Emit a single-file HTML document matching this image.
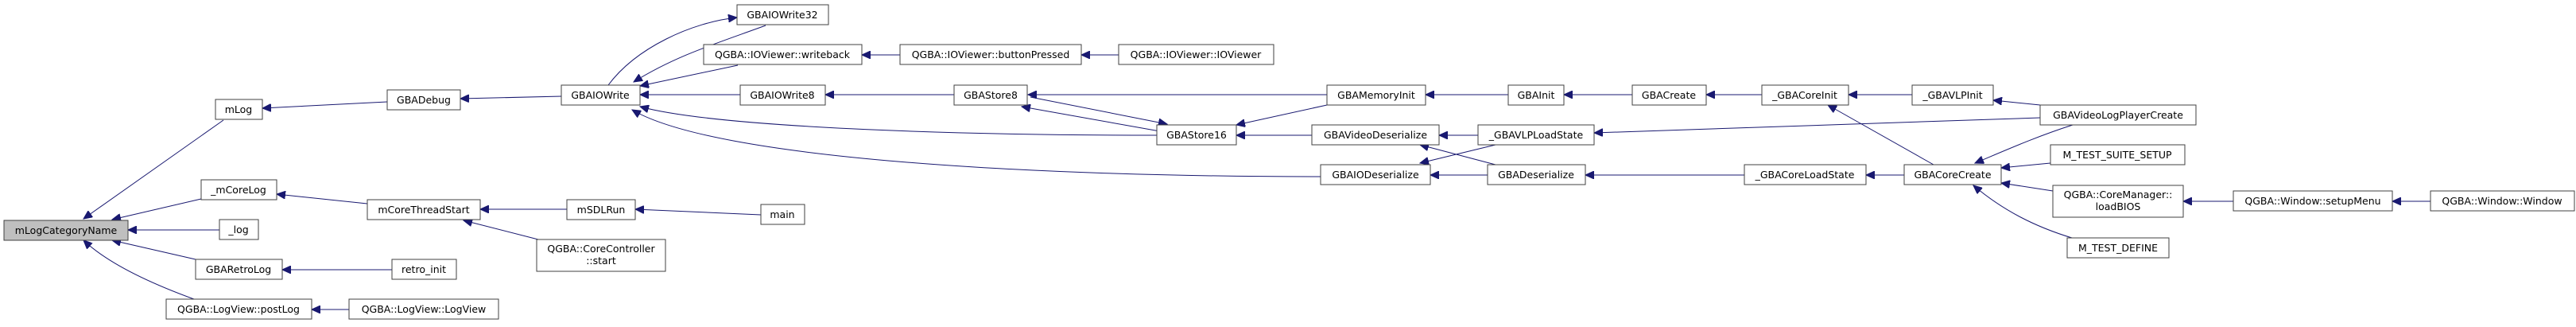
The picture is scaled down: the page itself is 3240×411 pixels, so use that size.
<!DOCTYPE html>
<html><head><meta charset="utf-8"><style>
html,body{margin:0;padding:0;background:#fff;}
svg{display:block;}
text{font-family:"DejaVu Sans","Liberation Sans",sans-serif;font-size:12.5px;fill:#000;}
.n{fill:#fff;stroke:#404040;stroke-width:1;}
.e{fill:none;stroke:#191970;stroke-width:1;}
</style></head><body>
<svg width="3240" height="411" viewBox="0 0 3240 411" xmlns="http://www.w3.org/2000/svg">
<defs>
<marker id="a" markerUnits="userSpaceOnUse" markerWidth="12" markerHeight="10" refX="11" refY="5" orient="auto">
<path d="M0,0 L11,5 L0,10 Z" fill="#191970" stroke="#191970"/>
</marker>
</defs>
<g class="e" marker-end="url(#a)">
<path d="M281,151 L105,275"/>
<path d="M253,250 L141,276"/>
<path d="M276,289 L161,289"/>
<path d="M246,326 L141,302"/>
<path d="M244,376 C200,360 140,335 105,302"/>
<path d="M487,128 L330,136"/>
<path d="M707,121 L579,124"/>
<path d="M462,256 L348,244"/>
<path d="M493,339 L355,339"/>
<path d="M439,389 L392,389"/>
<path d="M713,263 L604,263"/>
<path d="M677,301 L583,277"/>
<path d="M957,270 L799,263"/>
<path d="M765,107 C800,60 870,28 927,22"/>
<path d="M963,32 C900,55 850,70 797,103"/>
<path d="M928,82 L805,108"/>
<path d="M1132,69 L1084,69"/>
<path d="M1407,69 L1360,69"/>
<path d="M931,119 L805,119"/>
<path d="M1200,119 L1038,119"/>
<path d="M1455,170 C1200,170 900,160 805,134"/>
<path d="M1661,222 C1300,222 900,200 795,138"/>
<path d="M1459,165 L1285,134"/>
<path d="M1296,122 L1468,156"/>
<path d="M1669,119 L1293,119"/>
<path d="M1669,132 L1555,157"/>
<path d="M1650,170 L1555,170"/>
<path d="M1897,119 L1793,119"/>
<path d="M2053,119 L1967,119"/>
<path d="M2216,119 L2146,119"/>
<path d="M2405,119 L2325,119"/>
<path d="M2432,207 L2299,132"/>
<path d="M2566,132 L2507,126"/>
<path d="M2566,148 L2005,167"/>
<path d="M1859,170 L1810,170"/>
<path d="M1881,182 L1786,205"/>
<path d="M1881,207 L1786,182"/>
<path d="M1871,220 L1799,220"/>
<path d="M2194,220 L1994,220"/>
<path d="M2395,220 L2347,220"/>
<path d="M2607,157 C2560,172 2520,190 2484,205"/>
<path d="M2579,205 L2517,211"/>
<path d="M2582,240 L2517,230"/>
<path d="M2606,299 C2560,285 2520,265 2482,233"/>
<path d="M2809,253 L2746,253"/>
<path d="M3057,253 L3009,253"/>
</g>
<g>
<rect x="5" y="277" width="156" height="25" fill="#bfbfbf" stroke="#404040"/><text x="83" y="294" text-anchor="middle">mLogCategoryName</text>
<rect class="n" x="271" y="125" width="59" height="25"/><text x="300" y="142" text-anchor="middle">mLog</text>
<rect class="n" x="487" y="113" width="92" height="25"/><text x="533" y="130" text-anchor="middle">GBADebug</text>
<rect class="n" x="706" y="107" width="99" height="25"/><text x="755" y="124" text-anchor="middle">GBAIOWrite</text>
<rect class="n" x="253" y="226" width="95" height="25"/><text x="300" y="243" text-anchor="middle">_mCoreLog</text>
<rect class="n" x="462" y="251" width="142" height="25"/><text x="533" y="268" text-anchor="middle">mCoreThreadStart</text>
<rect class="n" x="713" y="251" width="86" height="25"/><text x="756" y="268" text-anchor="middle">mSDLRun</text>
<rect class="n" x="276" y="276" width="49" height="25"/><text x="300" y="293" text-anchor="middle">_log</text>
<rect class="n" x="675" y="301" width="162" height="40"/><text x="756" y="317" text-anchor="middle">QGBA::CoreController</text><text x="756" y="332" text-anchor="middle">::start</text>
<rect class="n" x="246" y="326" width="109" height="25"/><text x="300" y="343" text-anchor="middle">GBARetroLog</text>
<rect class="n" x="493" y="326" width="81" height="25"/><text x="533" y="343" text-anchor="middle">retro_init</text>
<rect class="n" x="209" y="376" width="183" height="25"/><text x="300" y="393" text-anchor="middle">QGBA::LogView::postLog</text>
<rect class="n" x="439" y="376" width="188" height="25"/><text x="533" y="393" text-anchor="middle">QGBA::LogView::LogView</text>
<rect class="n" x="927" y="6" width="115" height="25"/><text x="984" y="23" text-anchor="middle">GBAIOWrite32</text>
<rect class="n" x="885" y="56" width="199" height="25"/><text x="984" y="73" text-anchor="middle">QGBA::IOViewer::writeback</text>
<rect class="n" x="1132" y="56" width="228" height="25"/><text x="1246" y="73" text-anchor="middle">QGBA::IOViewer::buttonPressed</text>
<rect class="n" x="1407" y="56" width="195" height="25"/><text x="1504" y="73" text-anchor="middle">QGBA::IOViewer::IOViewer</text>
<rect class="n" x="931" y="107" width="107" height="25"/><text x="984" y="124" text-anchor="middle">GBAIOWrite8</text>
<rect class="n" x="1200" y="107" width="92" height="25"/><text x="1246" y="124" text-anchor="middle">GBAStore8</text>
<rect class="n" x="1455" y="157" width="100" height="25"/><text x="1505" y="174" text-anchor="middle">GBAStore16</text>
<rect class="n" x="957" y="257" width="55" height="25"/><text x="984" y="274" text-anchor="middle">main</text>
<rect class="n" x="1669" y="107" width="124" height="25"/><text x="1731" y="124" text-anchor="middle">GBAMemoryInit</text>
<rect class="n" x="1897" y="107" width="70" height="25"/><text x="1932" y="124" text-anchor="middle">GBAInit</text>
<rect class="n" x="2053" y="107" width="93" height="25"/><text x="2099" y="124" text-anchor="middle">GBACreate</text>
<rect class="n" x="2216" y="107" width="109" height="25"/><text x="2270" y="124" text-anchor="middle">_GBACoreInit</text>
<rect class="n" x="2405" y="107" width="102" height="25"/><text x="2456" y="124" text-anchor="middle">_GBAVLPInit</text>
<rect class="n" x="1650" y="157" width="160" height="25"/><text x="1730" y="174" text-anchor="middle">GBAVideoDeserialize</text>
<rect class="n" x="1859" y="157" width="146" height="25"/><text x="1932" y="174" text-anchor="middle">_GBAVLPLoadState</text>
<rect class="n" x="1661" y="207" width="138" height="25"/><text x="1730" y="224" text-anchor="middle">GBAIODeserialize</text>
<rect class="n" x="1871" y="207" width="123" height="25"/><text x="1932" y="224" text-anchor="middle">GBADeserialize</text>
<rect class="n" x="2194" y="207" width="153" height="25"/><text x="2270" y="224" text-anchor="middle">_GBACoreLoadState</text>
<rect class="n" x="2395" y="207" width="122" height="25"/><text x="2456" y="224" text-anchor="middle">GBACoreCreate</text>
<rect class="n" x="2566" y="132" width="196" height="25"/><text x="2664" y="149" text-anchor="middle">GBAVideoLogPlayerCreate</text>
<rect class="n" x="2579" y="182" width="169" height="25"/><text x="2663" y="199" text-anchor="middle">M_TEST_SUITE_SETUP</text>
<rect class="n" x="2582" y="233" width="164" height="40"/><text x="2664" y="249" text-anchor="middle">QGBA::CoreManager::</text><text x="2664" y="264" text-anchor="middle">loadBIOS</text>
<rect class="n" x="2600" y="299" width="128" height="25"/><text x="2664" y="316" text-anchor="middle">M_TEST_DEFINE</text>
<rect class="n" x="2809" y="240" width="200" height="25"/><text x="2909" y="257" text-anchor="middle">QGBA::Window::setupMenu</text>
<rect class="n" x="3057" y="240" width="181" height="25"/><text x="3147" y="257" text-anchor="middle">QGBA::Window::Window</text>
</g>
</svg>
</body></html>
